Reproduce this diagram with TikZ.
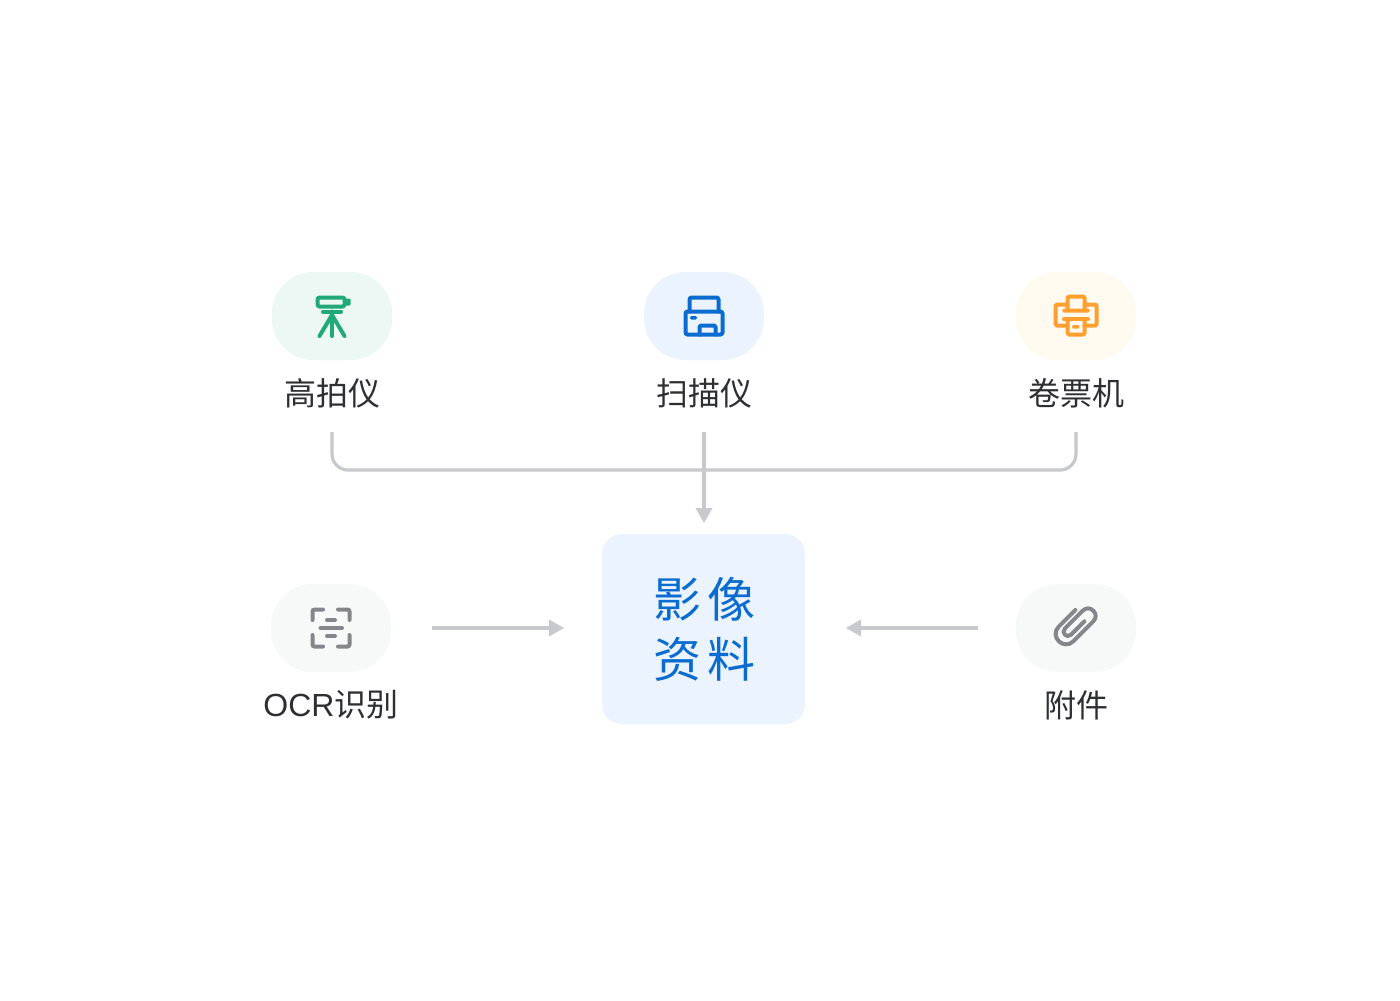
\documentclass[tikz,border=0pt]{standalone}
\usepackage{fontspec}
\setmainfont{Noto Sans CJK SC}
\newfontfamily\latinf{Liberation Sans}
\usetikzlibrary{arrows.meta}
\definecolor{linegray}{HTML}{C8C9CC}
\definecolor{txt}{HTML}{2E2F33}
\definecolor{cblue}{HTML}{0A6CD0}
\definecolor{cgreen}{HTML}{21A97A}
\definecolor{corange}{HTML}{FF9F2E}
\definecolor{cgray}{HTML}{85868C}
\definecolor{bgreen}{HTML}{EDF8F5}
\definecolor{bblue}{HTML}{EBF4FE}
\definecolor{borange}{HTML}{FEFAF0}
\definecolor{bgray}{HTML}{F7F9F9}
\tikzset{
  pill/.style={minimum width=90pt,minimum height=66pt,rounded corners=31pt,inner sep=0pt,draw=none},
  lab/.style={text=txt,font=\fontsize{24pt}{28pt}\selectfont,inner sep=0pt},
  conn/.style={draw=linegray,line width=2.4pt},
  arr/.style={draw=linegray,line width=3pt,-{Triangle[length=11.25pt,width=12.75pt,line width=0pt,fill=linegray]}},
  ico/.style={line width=3pt,line cap=round,line join=round,rounded corners=1.5pt},
}
\begin{document}
\begin{tikzpicture}[x=.75pt,y=-.75pt]
\useasboundingbox (0,0) rectangle (1400,1000);
\fill[white] (0,0) rectangle (1400,1000);

% pills
\node[pill,fill=bgreen] (p1) at (332,316) {};
\node[pill,fill=bblue] (p2) at (704,316) {};
\node[pill,fill=borange] (p3) at (1076,316) {};
\node[pill,fill=bgray] (p4) at (331,628) {};
\node[pill,fill=bgray] (p5) at (1076,628) {};

% labels
\node[lab] (l1) at (332,393) {高拍仪};
\node[lab] (l2) at (704,393) {扫描仪};
\node[lab] (l3) at (1076,393) {卷票机};
\node[lab] (l4) at (331,705) {{\latinf OCR}识别};
\node[lab] (l5) at (1076,705) {附件};

% centre box
\node[fill=bblue,rounded corners=15pt,minimum width=152.25pt,minimum height=142.5pt,inner sep=0pt] (c) at (703.5,629) {};
\node[text=cblue,align=center,inner sep=0pt,font=\fontsize{36pt}{45pt}\selectfont] (ct) at (704.5,629)
  {影\hspace{5.25pt}像\\资\hspace{5.25pt}料};

% connector ends
\coordinate (s1) at (332,432);
\coordinate (s2) at (704,432);
\coordinate (s3) at (1076,432);
\coordinate (e2) at (704,523);
\coordinate (b1) at (332,470);
\coordinate (b3) at (1076,470);
\coordinate (s4) at (432,628);
\coordinate (e4) at (564,628);
\coordinate (s5) at (978,628);
\coordinate (e5) at (846,628);

\draw[conn,rounded corners=12pt] (s1) -- (b1) -- (b3) -- (s3);
\draw[arr] (s2) -- (e2);
\draw[arr] (s4) -- (e4);
\draw[arr] (s5) -- (e5);

% telescope icon
\draw[ico,draw=cgreen] (317.5,297.5) rectangle (344.5,306.5);
\fill[cgreen,rounded corners=.8pt] (345,298.5) rectangle (350.5,305.5);
\draw[ico,draw=cgreen,rounded corners=0pt] (323,311.5) -- (341,311.5);
\draw[ico,draw=cgreen,rounded corners=0pt] (332,311.5) -- (332,336);
\draw[ico,draw=cgreen,rounded corners=0pt] (319.5,336) -- (332,315) -- (344.5,336);

% scanner icon
\draw[ico,draw=cblue] (689.5,311.5) -- (689.5,297.5) -- (718.5,297.5) -- (718.5,311.5);
\draw[ico,draw=cblue] (685.5,311.5) rectangle (722.5,334.5);
\draw[ico,draw=cblue,rounded corners=1pt] (699.5,334.5) -- (699.5,325.5) -- (715.5,325.5) -- (715.5,334.5);
\fill[cblue,rounded corners=1pt] (690,316) rectangle (697,319.5);

% printer icon
\draw[ico,draw=corange,rounded corners=1pt] (1067.5,304.5) -- (1055.5,304.5) -- (1055.5,325.5) -- (1067.5,325.5);
\draw[ico,draw=corange,rounded corners=1pt] (1084.5,304.5) -- (1096.5,304.5) -- (1096.5,325.5) -- (1084.5,325.5);
\draw[ico,draw=corange,rounded corners=1pt] (1063,310.5) -- (1067.5,310.5) -- (1067.5,296.5) -- (1084.5,296.5) -- (1084.5,310.5) -- (1089,310.5) -- cycle;
\draw[ico,draw=corange,rounded corners=1pt] (1064,319) -- (1088,319);
\draw[ico,draw=corange,rounded corners=1pt] (1067.5,319) -- (1067.5,334.5) -- (1084.5,334.5) -- (1084.5,319);
\fill[corange,rounded corners=1pt] (1072,325) rectangle (1079.5,328.5);

% OCR icon
\begin{scope}[line width=3pt,line cap=round,rounded corners=1.5pt]
\draw[cgray] (323,609.5) -- (312.5,609.5) -- (312.5,620);
\draw[cgray] (338,609.5) -- (349.5,609.5) -- (349.5,620);
\draw[cgray] (312.5,635) -- (312.5,646.5) -- (323,646.5);
\draw[cgray] (349.5,635) -- (349.5,646.5) -- (338,646.5);
\draw[cgray] (327,620) -- (335,620);
\draw[cgray] (320.5,628) -- (342,628);
\draw[cgray] (327,636) -- (335,636);
\end{scope}

% paperclip icon
\coordinate (pc) at (1076,628);
\begin{scope}[shift={(pc)},x={(.5303pt,.5303pt)},y={(.5303pt,-.5303pt)}]
\draw[cgray,line width=3pt,line cap=round,line join=round]
  (12.3,-13.2) -- (-11.15,-13.2)
  .. controls (-24.95,-13.2) and (-24.95,7.5) .. (-11.15,7.5)
  -- (17,7.5)
  .. controls (27,7.5) and (27,-7.5) .. (17,-7.5)
  -- (-8.2,-7.5)
  .. controls (-14,-7.5) and (-14,1.2) .. (-8.2,1.2)
  -- (10.6,1.2);
\end{scope}
\end{tikzpicture}
\end{document}
